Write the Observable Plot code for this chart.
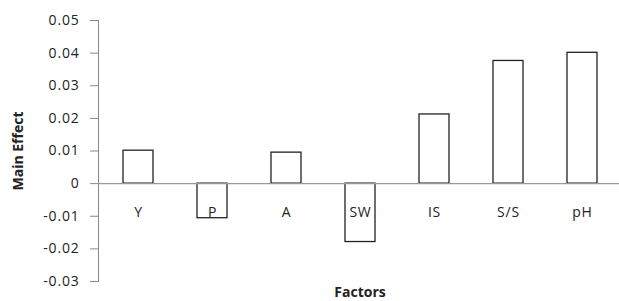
<!DOCTYPE html>
<html>
<head>
<meta charset="utf-8">
<script src="https://cdn.jsdelivr.net/npm/d3@7"></script>
<script src="https://cdn.jsdelivr.net/npm/@observablehq/plot@0.6"></script>
<style>
  html, body { margin: 0; padding: 0; background: #fff; }
  #chart svg { display: block; }
  #chart svg .lbl text { letter-spacing: 0.8px; }
</style>
</head>
<body>
<div id="chart"></div>
<script>
const factors = ["Y", "P", "A", "SW", "IS", "S/S", "pH"];
const mainEffect = [0.0101, -0.0106, 0.0095, -0.0179, 0.0212, 0.0376, 0.0401];
const yTicks = [-0.03, -0.02, -0.01, 0, 0.01, 0.02, 0.03, 0.04, 0.05];
const xTitle = "Factors";
const yTitle = "Main Effect";

const data = factors.map((f, i) => ({factor: f, value: mainEffect[i]}));
const font = "'Open Sans', 'Liberation Sans', sans-serif";

const chart = Plot.plot({
  width: 619,
  height: 301,
  marginTop: 20,
  marginBottom: 20,
  marginLeft: 98,
  marginRight: -2,
  style: {fontFamily: font, fontSize: "14px", color: "#222", background: "#fff"},
  x: {domain: factors, paddingInner: 0.6, paddingOuter: 0.3, axis: null},
  y: {domain: [-0.03, 0.05], axis: null},
  marks: [
    Plot.axisY({
      ticks: yTicks,
      tickSize: 8,
      tickPadding: 11,
      stroke: "#888",
      tickFormat: d => d === 0 ? "0" : d.toFixed(2),
      label: null,
      fill: "#222",
      fontSize: 14,
      className: "lbl"
    }),
    Plot.frame({anchor: "left", stroke: "#888"}),
    Plot.barY(data, {x: "factor", y: "value", fill: "#fff", stroke: "#222", strokeWidth: 1.3}),
    Plot.ruleY([0], {stroke: "#999", strokeWidth: 1.3}),
    Plot.text(data, {x: "factor", y: () => 0, text: "factor", dy: 29, fill: "#222", fontSize: 14, className: "lbl"}),
    Plot.text([xTitle], {frameAnchor: "bottom", textAnchor: "middle", lineAnchor: "middle", dy: 11, fontWeight: "bold", fontSize: 14, fill: "#222"}),
    Plot.text([yTitle], {frameAnchor: "left", textAnchor: "middle", lineAnchor: "middle", rotate: -90, dx: -80, fontWeight: "bold", fontSize: 14, fill: "#222"})
  ]
});
document.getElementById("chart").appendChild(chart);
</script>
</body>
</html>
